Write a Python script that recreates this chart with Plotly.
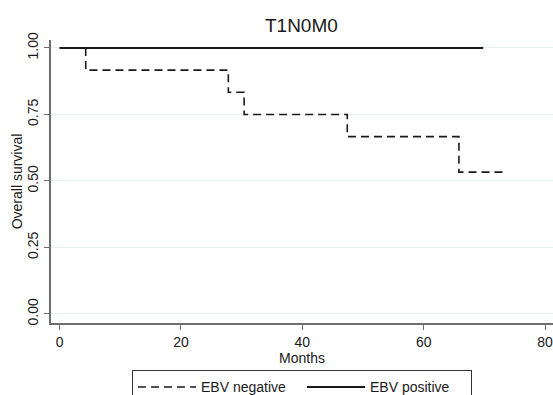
import plotly.graph_objects as go

# Data (Kaplan-Meier steps)
neg_months = [0, 4.3, 27.8, 30.4, 47.4, 65.8, 73.5]
neg_surv = [1.0, 0.9167, 0.8333, 0.75, 0.6667, 0.5333, 0.5333]
pos_months = [0, 69.8]
pos_surv = [1.0, 1.0]
x_ticks = [0, 20, 40, 60, 80]
y_ticks = [0, 0.25, 0.5, 0.75, 1.0]
y_tick_labels = ["0.00", "0.25", "0.50", "0.75", "1.00"]

fig = go.Figure()
fig.add_trace(go.Scatter(x=neg_months, y=neg_surv, mode="lines", line_shape="hv",
                         name="EBV negative",
                         line=dict(color="#1a1a1a", width=1.6, dash="8px,5px")))
fig.add_trace(go.Scatter(x=pos_months, y=pos_surv, mode="lines", line_shape="hv",
                         name="EBV positive",
                         line=dict(color="#1a1a1a", width=1.8)))

font_family = "Liberation Sans, Arial, sans-serif"
fig.update_layout(
    width=553, height=395,
    margin=dict(l=51, r=0, t=40, b=72, autoexpand=False),
    paper_bgcolor="white", plot_bgcolor="white",
    font=dict(family=font_family, size=14, color="#1a1a1a"),
    title=dict(text="T1N0M0", x=0.545, xanchor="center", y=0.935, yanchor="middle",
               font=dict(size=19, color="#1a1a1a")),
    showlegend=True,
    legend=dict(orientation="h", x=0.5, xanchor="center", y=-0.1675, yanchor="top",
                bordercolor="#333333", borderwidth=1, entrywidth=96, itemwidth=58,
                font=dict(size=14)),
    xaxis=dict(range=[-1.42, 81.3], tickvals=x_ticks, showgrid=False, zeroline=False,
               automargin=False, ticklabeloverflow="allow",
               showline=True, linecolor="#6e6e6e", linewidth=2,
               ticks="outside", ticklen=5, tickcolor="#6e6e6e",
               tickfont=dict(size=14),
               title=dict(text="Months", standoff=0, font=dict(size=14))),
    yaxis=dict(range=[-0.034, 1.03], tickvals=y_ticks, ticktext=y_tick_labels,
               automargin=False,
               tickangle=-90, showgrid=True, gridcolor="#e8f0f2", gridwidth=1,
               zeroline=False, showline=True, linecolor="#6e6e6e", linewidth=2,
               ticks="outside", ticklen=5, tickcolor="#6e6e6e",
               tickfont=dict(size=14),
               title=dict(text="Overall survival", standoff=0, font=dict(size=14))),
)

fig.write_html("out.html", config={"displayModeBar": False},
               post_script="document.body.style.margin='0px';")
